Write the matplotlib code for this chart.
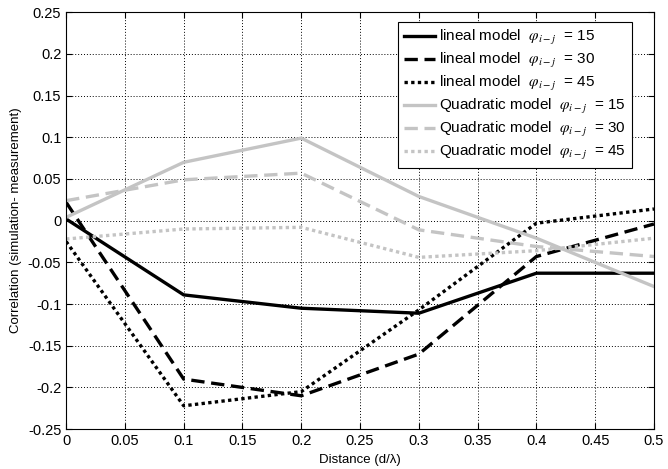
import matplotlib
matplotlib.use("Agg")
import matplotlib.pyplot as plt

plt.rcParams["font.family"] = ["Liberation Sans", "DejaVu Sans"]
plt.rcParams["mathtext.fontset"] = "stix"

# Usage: correlation error vs antenna spacing for two channel models
distance = [0.0, 0.1, 0.2, 0.3, 0.4, 0.5]

lineal_15 = [0.002, -0.089, -0.105, -0.111, -0.063, -0.063]
lineal_30 = [0.022, -0.190, -0.210, -0.160, -0.043, -0.004]
lineal_45 = [-0.025, -0.222, -0.205, -0.107, -0.003, 0.014]
quad_15 = [0.004, 0.070, 0.099, 0.029, -0.021, -0.079]
quad_30 = [0.024, 0.049, 0.057, -0.011, -0.031, -0.043]
quad_45 = [-0.022, -0.010, -0.008, -0.044, -0.036, -0.021]

x_ticks = [0, 0.05, 0.1, 0.15, 0.2, 0.25, 0.3, 0.35, 0.4, 0.45, 0.5]
y_ticks = [-0.25, -0.2, -0.15, -0.1, -0.05, 0, 0.05, 0.1, 0.15, 0.2, 0.25]

phi = r"$\varphi_{i-j}$"
series = [
    (lineal_15, "black", "-", f"lineal model  {phi}  = 15"),
    (lineal_30, "black", (0, (4, 2)), f"lineal model  {phi}  = 30"),
    (lineal_45, "black", (0, (1, 1)), f"lineal model  {phi}  = 45"),
    (quad_15, "#c4c4c4", "-", f"Quadratic model  {phi}  = 15"),
    (quad_30, "#c4c4c4", (0, (4, 2)), f"Quadratic model  {phi}  = 30"),
    (quad_45, "#c4c4c4", (0, (1, 1)), f"Quadratic model  {phi}  = 45"),
]

fig = plt.figure(figsize=(6.68, 4.69), dpi=100)
ax = fig.add_axes([0.099, 0.085, 0.880, 0.889])

for vals, color, ls, label in series:
    ax.plot(distance, vals, color=color, linestyle=ls, linewidth=2.4, label=label)

ax.set_xlim(0, 0.5)
ax.set_ylim(-0.25, 0.25)
ax.set_xticks(x_ticks)
ax.set_xticklabels([f"{t:g}" for t in x_ticks])
ax.set_yticks(y_ticks)
ax.set_yticklabels([f"{t:g}" for t in y_ticks])
ax.tick_params(direction="in", labelsize=10.5, length=4, top=True, right=True)
ax.grid(True, color="black", linestyle=(0, (1, 2)), linewidth=0.7)
ax.set_xlabel("Distance (d/λ)", fontsize=9.5)
ax.set_ylabel("Correlation (simulation- measurement)", fontsize=9.5)

leg = ax.legend(loc="upper right", bbox_to_anchor=(0.963, 0.976), borderaxespad=0,
                fontsize=11, handlelength=2.0, handletextpad=0.3, labelspacing=0.26,
                fancybox=False, framealpha=1, edgecolor="black", borderpad=0.4)
leg.get_frame().set_linewidth(0.8)

fig.savefig("out.png", dpi=100)
